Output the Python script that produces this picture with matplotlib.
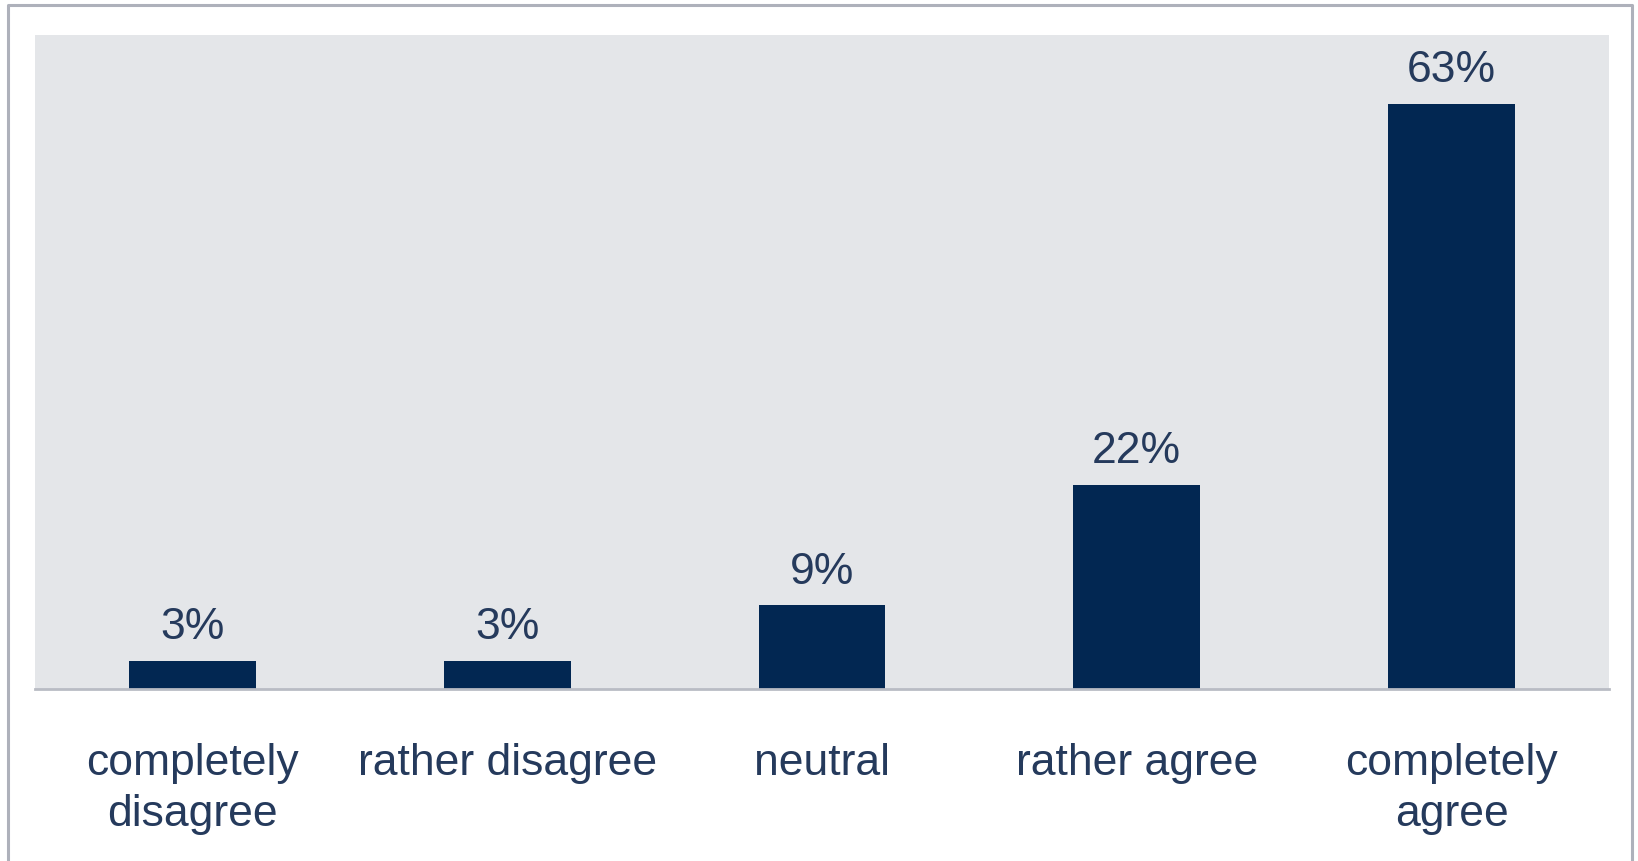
import matplotlib
matplotlib.use("Agg")
import matplotlib.pyplot as plt
from matplotlib.lines import Line2D

categories = ["completely\ndisagree", "rather disagree", "neutral", "rather agree", "completely\nagree"]
values = [3, 3, 9, 22, 63]
value_labels = ["3%", "3%", "9%", "22%", "63%"]

W, H, DPI = 1638, 862, 100
BAR_COLOR = "#022752"
TEXT_COLOR = "#253a5c"
PANEL_COLOR = "#e4e6e9"

plt.rcParams["font.family"] = ["Liberation Sans", "DejaVu Sans"]

fig = plt.figure(figsize=(W / DPI, H / DPI), dpi=DPI)
fig.patch.set_facecolor("white")

# frame around the whole chart (open at the bottom)
fx = lambda px: px / W
fy = lambda py: 1 - py / H
fig.add_artist(Line2D([fx(8), fx(8), fx(1632), fx(1632)],
                      [fy(870), fy(6), fy(6), fy(870)],
                      transform=fig.transFigure, color="#aeb1bb", lw=2.2))

ax = fig.add_axes([35 / W, 1 - 690 / H, 1574 / W, 654 / H])
ax.set_facecolor(PANEL_COLOR)

x = list(range(len(categories)))
bars = ax.bar(x, values, width=0.403, color=BAR_COLOR, zorder=2)

for rect, lab in zip(bars, value_labels):
    ax.annotate(lab, (rect.get_x() + rect.get_width() / 2, rect.get_height()),
                xytext=(0, 10), textcoords="offset points",
                ha="center", va="bottom", fontsize=32, color=TEXT_COLOR)

ax.set_xlim(-0.5, len(categories) - 0.5)
ax.set_ylim(0, 70.4)
ax.set_yticks([])
ax.set_xticks(x)
ax.set_xticklabels(categories, fontsize=32, color=TEXT_COLOR, linespacing=1.32)
ax.tick_params(axis="x", length=0, pad=38)

for side in ("left", "right", "top"):
    ax.spines[side].set_visible(False)
ax.spines["bottom"].set_color("#b9bcc4")
ax.spines["bottom"].set_linewidth(2)
ax.spines["bottom"].set_zorder(3)

fig.savefig("out.png", dpi=DPI)
